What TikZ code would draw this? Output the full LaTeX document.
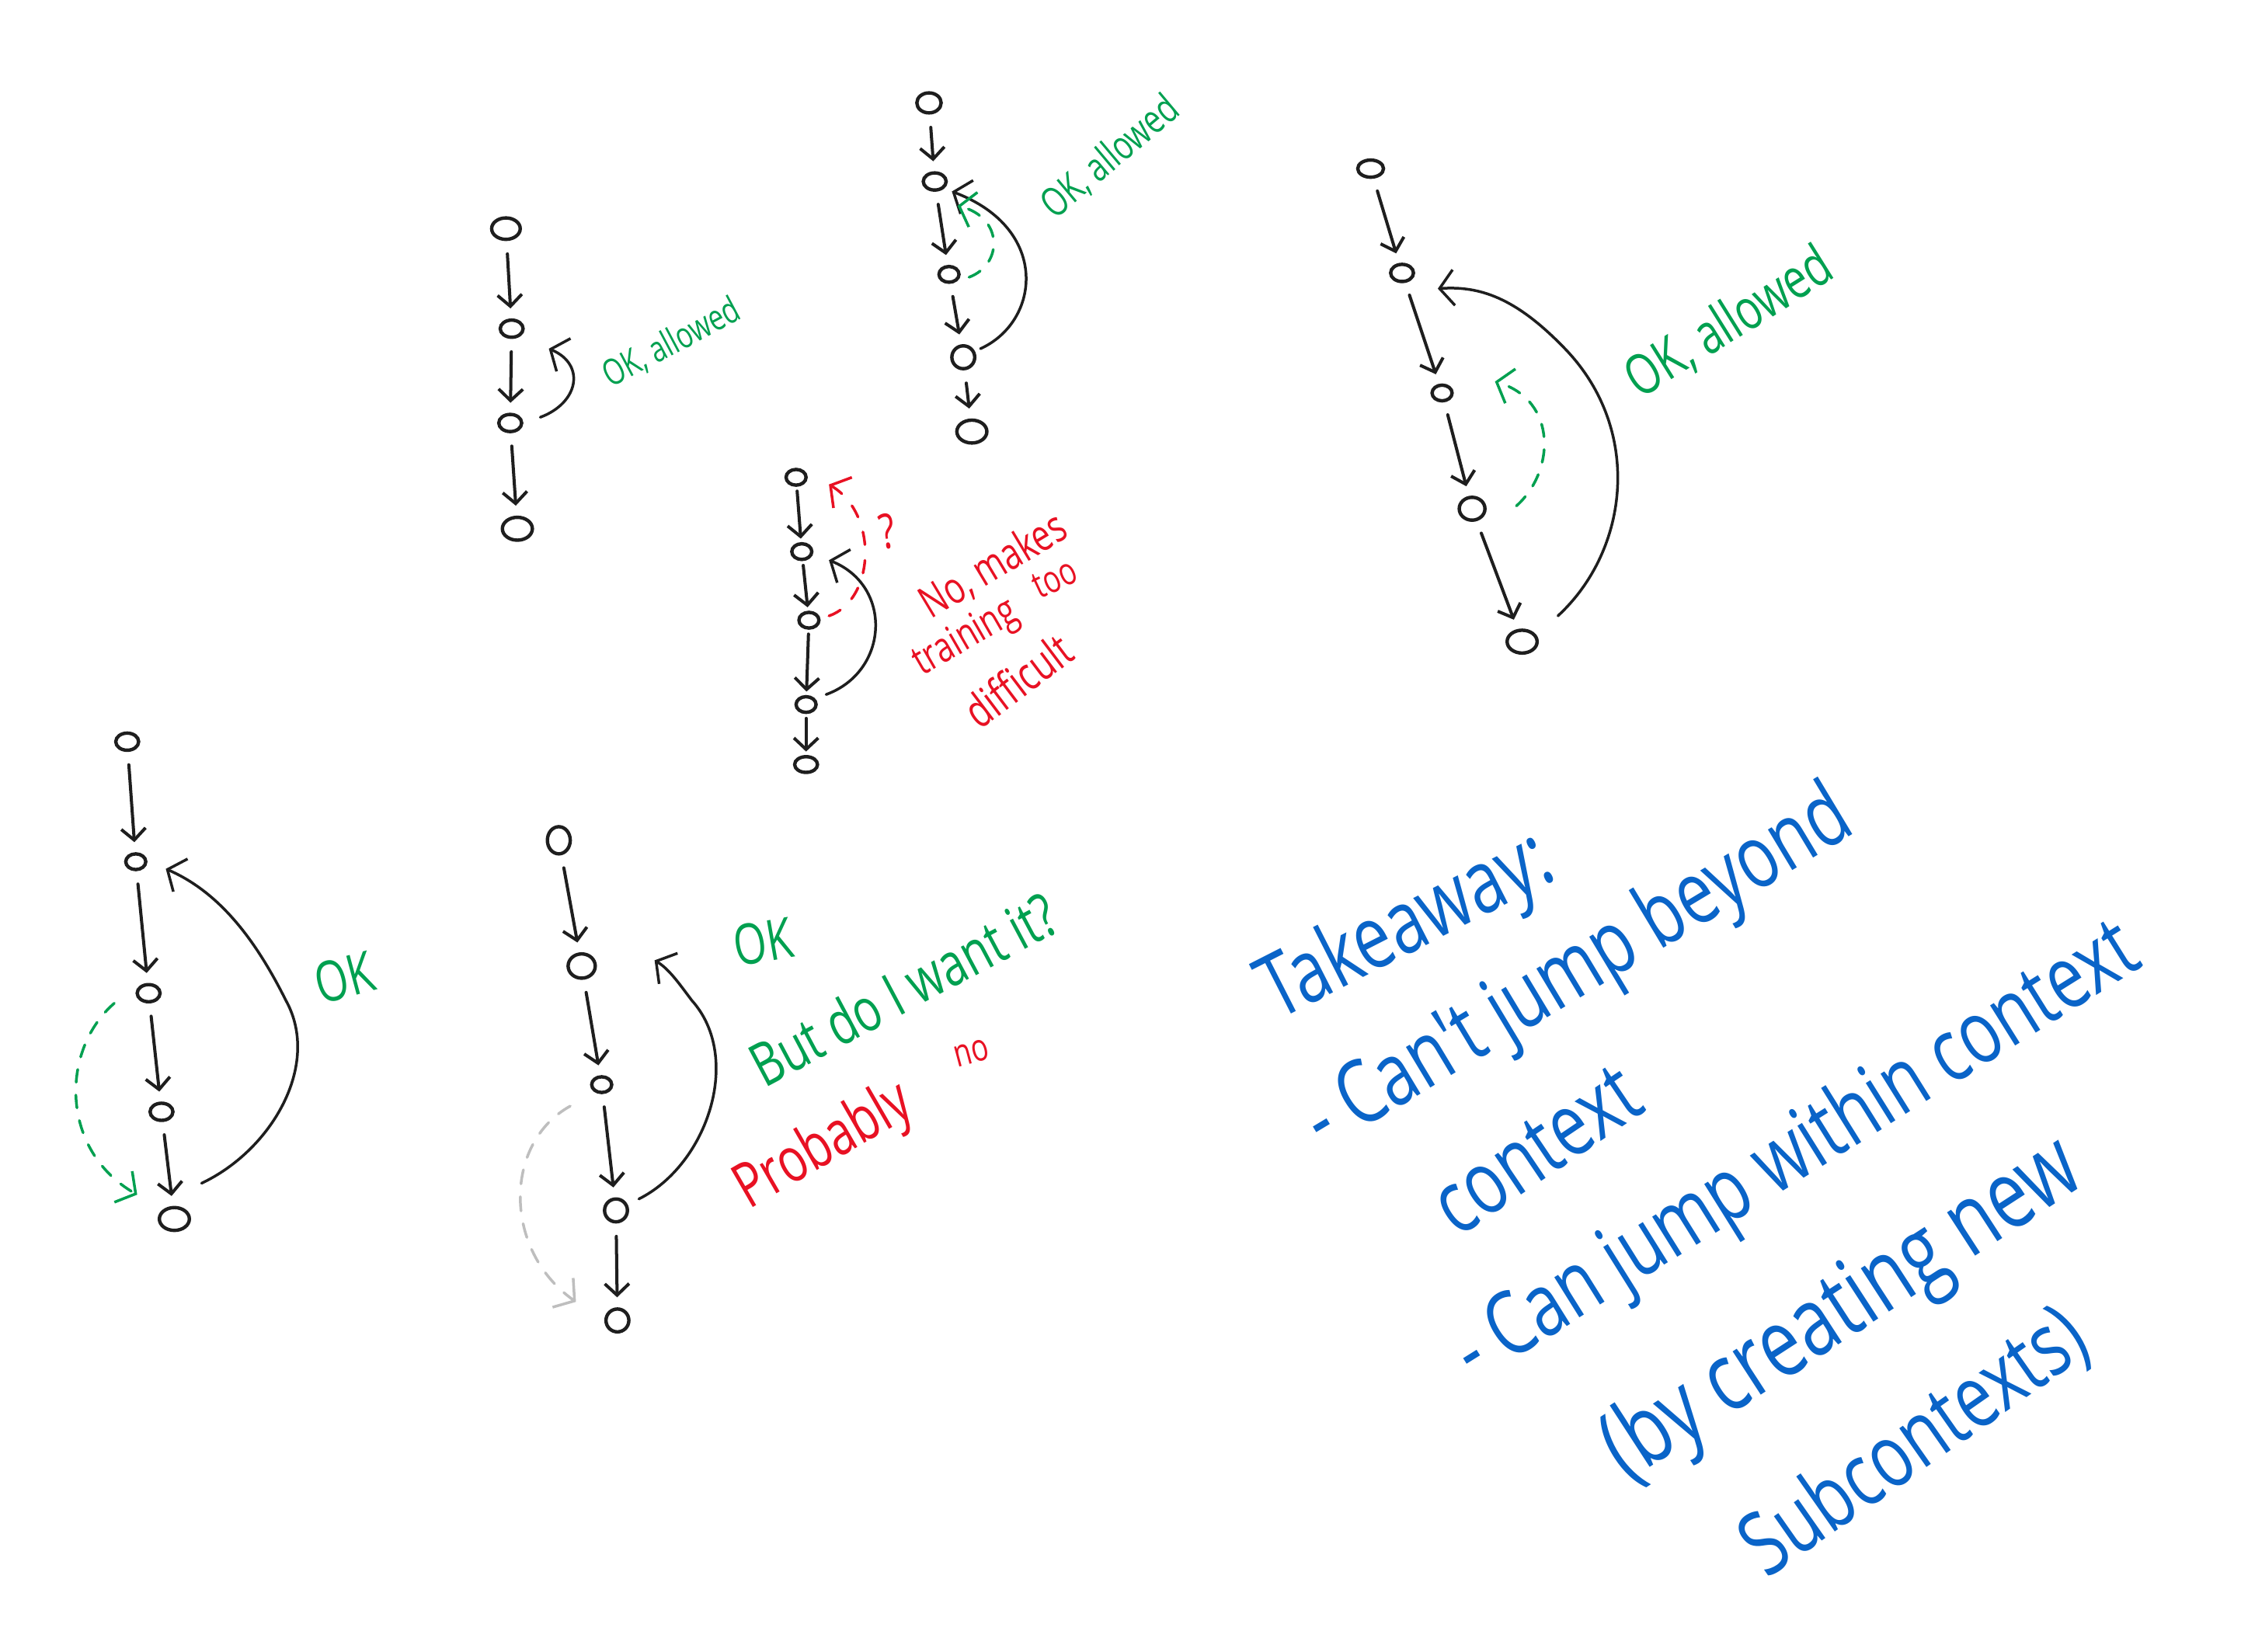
\documentclass[tikz,border=0pt]{standalone}
\usepackage{fontspec}
\setmainfont{Open Sans}
\newfontfamily\hand[FakeStretch=0.75]{Open Sans}
\usetikzlibrary{arrows.meta,shapes.geometric}
\definecolor{okgreen}{RGB}{0,160,80}
\definecolor{nored}{RGB}{232,17,35}
\definecolor{inkblue}{RGB}{10,100,200}
\definecolor{ink}{RGB}{30,30,30}
\definecolor{ghost}{RGB}{190,190,190}
\newcommand{\fs}[1]{\hand\fontsize{#1}{#1}\selectfont}
\begin{document}
\begin{tikzpicture}[x=0.05cm,y=-0.05cm,
  st/.style={draw=ink, ellipse, line width=3.4pt, minimum width=0.8cm, minimum height=0.6cm, inner sep=0pt},
  big/.style={st, minimum width=1.05cm, minimum height=0.8cm},
  sm/.style={st, minimum width=0.7cm, minimum height=0.55cm},
  nxt/.style={draw=ink, line width=3.1pt, line cap=round, -{Straight Barb[length=0.4cm,width=0.85cm]}, shorten <=0.45cm, shorten >=0.35cm},
  cnxt/.style={nxt, shorten <=0.15cm, shorten >=0.12cm},
  jmp/.style={draw=ink, line width=2.7pt, line cap=round, -{Straight Barb[length=0.5cm,width=1.25cm]}},
  okjmp/.style={jmp, draw=okgreen, dash pattern=on 0.45cm off 0.45cm},
  nojmp/.style={jmp, draw=nored, dash pattern=on 0.45cm off 0.55cm},
  ghostjmp/.style={jmp, draw=ghost, dash pattern=on 0.5cm off 0.45cm},
  note/.style={inner sep=0pt, anchor=center},
  green/.style={note, text=okgreen},
  red/.style={note, text=nored},
  blue/.style={note, text=inkblue, font=\fs{88}}
]
\useasboundingbox[fill=white] (0,0) rectangle (1568,1156);

% ---------- diagram A ----------
\node[st, minimum width=1.0cm, minimum height=0.75cm] (a1) at (354,160) {};
\node[st] (a2) at (358,230) {};
\node[st] (a3) at (357,296) {};
\node[big] (a4) at (362,370) {};
\draw[nxt] (a1) -- (a2);
\draw[nxt] (a2) -- (a3);
\draw[nxt] (a3) -- (a4);
\coordinate (a3j) at (378,292);
\coordinate (a2j) at (384,244);
\draw[jmp] (a3j) .. controls (405,282) and (410,255) .. (a2j);
\node[green, font=\fs{36}, rotate=28] (ta) at (470,240) {OK, allowed};

% ---------- diagram B ----------
\node[st, minimum width=0.85cm, minimum height=0.7cm] (b1) at (650,72) {};
\node[st] (b2) at (654,127) {};
\node[sm] (b3) at (664,192) {};
\node[st, minimum height=0.8cm] (b4) at (674,250) {};
\node[big] (b5) at (680,302) {};
\draw[nxt] (b1) -- (b2);
\draw[nxt] (b2) -- (b3);
\draw[nxt] (b3) -- (b4);
\draw[nxt] (b4) -- (b5);
\coordinate (b4j) at (686,244);
\coordinate (b2j) at (666,134);
\coordinate (b3j) at (678,194);
\coordinate (b2k) at (670,144);
\draw[jmp] (b4j) .. controls (728,225) and (735,160) .. (b2j);
\draw[okjmp] (b3j) .. controls (702,185) and (702,152) .. (b2k);
\node[green, font=\fs{40}, rotate=40] (tb) at (777,110) {OK, allowed};

% ---------- diagram C ----------
\node[sm] (c1) at (557,334) {};
\node[sm] (c2) at (561,386) {};
\node[sm] (c3) at (566,434) {};
\node[sm] (c4) at (564,493) {};
\node[sm, minimum width=0.8cm] (c5) at (564,535) {};
\draw[cnxt] (c1) -- (c2);
\draw[cnxt] (c2) -- (c3);
\draw[cnxt] (c3) -- (c4);
\draw[cnxt] (c4) -- (c5);
\coordinate (c4j) at (578,486);
\coordinate (c2j) at (580,392);
\coordinate (c3j) at (580,431);
\coordinate (c1j) at (580,339);
\draw[jmp] (c4j) .. controls (622,470) and (625,410) .. (c2j);
\draw[nojmp] (c3j) .. controls (612,420) and (615,360) .. (c1j);
\node[red, font=\fs{48}, rotate=10] (tq) at (621,372) {?};
\node[red, font=\fs{44}, rotate=31] (tc1) at (695,396) {No, makes};
\node[red, font=\fs{38}, rotate=25] (tc2) at (738,405) {too};
\node[red, font=\fs{42}, rotate=30] (tc3) at (676,447) {training};
\node[red, font=\fs{46}, rotate=37] (tc4) at (712,476) {difficult};

% ---------- diagram D ----------
\node[st, minimum width=0.9cm] (d1) at (959,118) {};
\node[st] (d2) at (981,191) {};
\node[sm] (d3) at (1009,275) {};
\node[st, minimum width=0.9cm, minimum height=0.8cm] (d4) at (1030,356) {};
\node[big] (d5) at (1065,449) {};
\draw[nxt] (d1) -- (d2);
\draw[nxt] (d2) -- (d3);
\draw[nxt] (d3) -- (d4);
\draw[nxt] (d4) -- (d5);
\coordinate (d5j) at (1090,431);
\coordinate (d2j) at (1006,202);
\coordinate (d4j) at (1061,354);
\coordinate (d3j) at (1046,267);
\draw[jmp] (d5j) .. controls (1140,385) and (1150,300) .. (1094,243)
  .. controls (1060,208) and (1035,200) .. (d2j);
\draw[okjmp] (d4j) .. controls (1088,330) and (1090,280) .. (d3j);
\node[green, font=\fs{56}, rotate=32] (td) at (1210,226) {OK, allowed};

% ---------- diagram E ----------
\node[st] (e1) at (89,519) {};
\node[sm] (e2) at (95,603) {};
\node[st] (e3) at (104,695) {};
\node[st] (e4) at (113,778) {};
\node[big] (e5) at (122,853) {};
\draw[nxt] (e1) -- (e2);
\draw[nxt] (e2) -- (e3);
\draw[nxt] (e3) -- (e4);
\draw[nxt] (e4) -- (e5);
\coordinate (e5j) at (141,828);
\coordinate (e2j) at (116,608);
\coordinate (e3j) at (80,702);
\coordinate (e5k) at (96,836);
\draw[jmp] (e5j) .. controls (190,805) and (225,745) .. (200,700)
  .. controls (180,660) and (155,625) .. (e2j);
\draw[okjmp] (e3j) .. controls (42,735) and (42,805) .. (e5k);
\node[green, font=\fs{56}, rotate=15] (te) at (241,684) {OK};

% ---------- diagram F ----------
\node[st, minimum width=0.8cm, minimum height=0.95cm] (f1) at (391,588) {};
\node[st, minimum width=0.95cm, minimum height=0.85cm] (f2) at (407,676) {};
\node[sm] (f3) at (421,759) {};
\node[st, minimum height=0.8cm] (f4) at (431,847) {};
\node[st, minimum height=0.8cm] (f5) at (432,924) {};
\draw[nxt] (f1) -- (f2);
\draw[nxt] (f2) -- (f3);
\draw[nxt] (f3) -- (f4);
\draw[nxt] (f4) -- (f5);
\coordinate (f4j) at (447,839);
\coordinate (f2j) at (458,672);
\coordinate (f3j) at (399,774);
\coordinate (f5j) at (403,911);
\draw[jmp] (f4j) .. controls (495,815) and (520,740) .. (484,700)
  .. controls (475,688) and (468,678) .. (f2j);
\draw[ghostjmp] (f3j) .. controls (352,800) and (352,875) .. (f5j);
\node[green, font=\fs{56}, rotate=10] (tf1) at (534,659) {OK};
\node[green, font=\fs{60}, rotate=28] (tf2) at (632,692) {But do I want it?};
\node[red, font=\fs{62}, rotate=30] (tf3) at (577,803) {Probably};
\node[red, font=\fs{38}, rotate=15] (tf4) at (680,737) {no};

% ---------- takeaway ----------
\node[blue, rotate=27] (k1) at (985,650) {Takeaway:};
\node[blue, rotate=31] (k2) at (1105,680) {- Can't jump beyond};
\node[blue, rotate=34] (k3) at (1075,805) {context};
\node[blue, rotate=32] (k4) at (1258,808) {- Can jump within context};
\node[blue, font=\fs{96}, rotate=33] (k5) at (1290,918) {(by creating new};
\node[blue, rotate=35] (k6) at (1340,1010) {Subcontexts)};
\end{tikzpicture}
\end{document}
